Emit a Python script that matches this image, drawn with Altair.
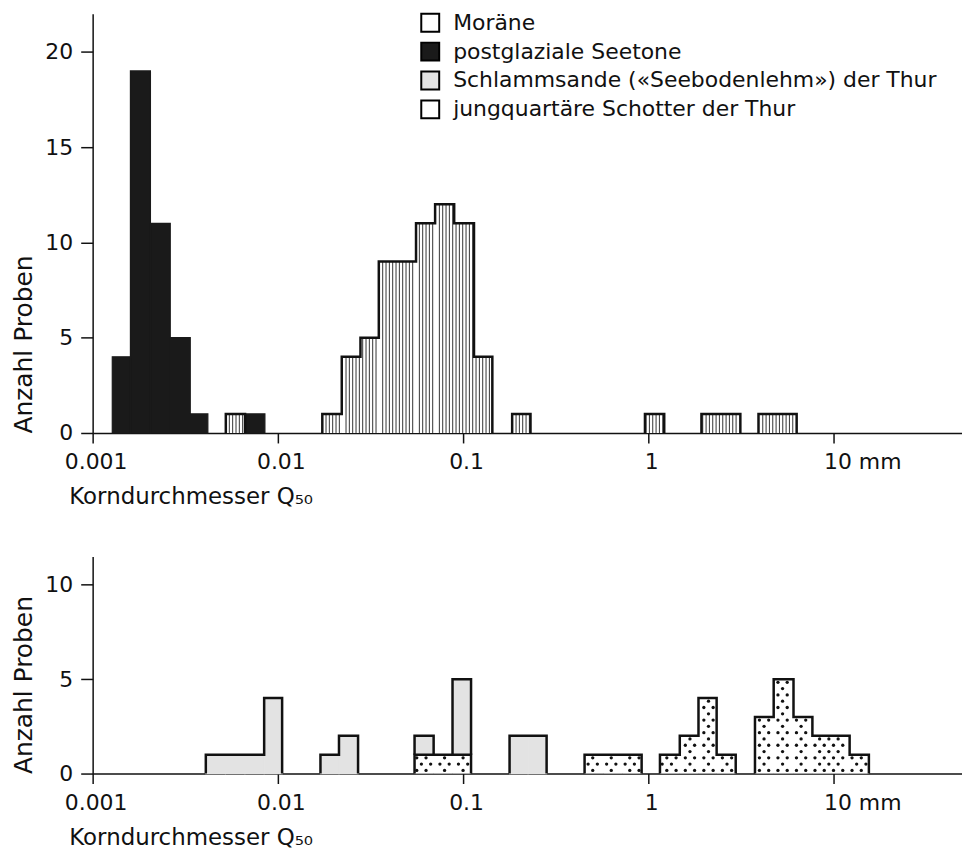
import math
import altair as alt
import pandas as pd

FONT = "DejaVu Sans"

SERIES = ["Moräne", "postglaziale Seetone",
          "Schlammsande («Seebodenlehm») der Thur",
          "jungquartäre Schotter der Thur"]
FILLS = ["#ffffff", "#1a1a1a", "#e3e3e3", "#ffffff"]

X_TICKS = [0.001, 0.01, 0.1, 1, 10]
X_DOMAIN = [0.001, 49.4]

# ---------- upper panel (bin edges as log10 of grain size in mm) ----------
SEETONE_LO = [-2.894, -2.796, -2.688, -2.581, -2.473, -2.177]
SEETONE_HI = [-2.796, -2.688, -2.581, -2.473, -2.378, -2.070]
SEETONE_N = [4, 19, 11, 5, 1, 1]

MORAENE_LO = [-2.281, -1.760, -1.655, -1.554, -1.455, -1.355, -1.254, -1.151,
              -1.048, -0.941, -0.735, -0.018, 0.287, 0.392, 0.595, 0.698]
MORAENE_HI = [-2.177, -1.655, -1.554, -1.455, -1.355, -1.254, -1.151, -1.048,
              -0.941, -0.842, -0.636, 0.086, 0.392, 0.497, 0.698, 0.801]
MORAENE_N = [1, 1, 4, 5, 9, 9, 11, 12, 11, 4, 1, 1, 1, 1, 1, 1]

# ---------- lower panel ----------
SCHLAMM_LO = [-2.389, -2.283, -2.178, -2.074, -1.770, -1.670, -1.262, -1.057, -0.749, -0.649]
SCHLAMM_HI = [-2.283, -2.178, -2.074, -1.977, -1.670, -1.567, -1.159, -0.957, -0.649, -0.549]
SCHLAMM_N = [1, 1, 1, 4, 1, 2, 1, 4, 2, 2]

SCHOTTER_LO = [-1.262, -1.159, -1.057, -0.344, -0.241, -0.139, 0.063, 0.170,
               0.271, 0.369, 0.576, 0.677, 0.784, 0.886, 0.987, 1.087]
SCHOTTER_HI = [-1.159, -1.057, -0.957, -0.241, -0.139, -0.036, 0.170, 0.271,
               0.369, 0.472, 0.677, 0.784, 0.886, 0.987, 1.087, 1.191]
SCHOTTER_N = [1, 1, 1, 1, 1, 1, 1, 2, 4, 1, 3, 5, 3, 2, 2, 1]


def bins(series, lo, hi, n, base=None):
    base = base or [0] * len(n)
    return [dict(series=series, lo=a, hi=b, base=c, top=c + k,
                 x=10 ** a, x2=10 ** b)
            for a, b, k, c in zip(lo, hi, n, base)]


def stack_base(lo, under_lo, under_n):
    out = []
    for a in lo:
        c = 0
        for b, k in zip(under_lo, under_n):
            if abs(a - b) < 0.01:
                c = k
        out.append(c)
    return out


top_bins = bins(SERIES[0], MORAENE_LO, MORAENE_HI, MORAENE_N) + \
    bins(SERIES[1], SEETONE_LO, SEETONE_HI, SEETONE_N)
bot_bins = bins(SERIES[3], SCHOTTER_LO, SCHOTTER_HI, SCHOTTER_N) + \
    bins(SERIES[2], SCHLAMM_LO, SCHLAMM_HI, SCHLAMM_N,
         stack_base(SCHLAMM_LO, SCHOTTER_LO, SCHOTTER_N))


def runs(blist, series_list):
    """Split bins into contiguous runs per series."""
    out = []
    for s in series_list:
        bs = sorted([b for b in blist if b["series"] == s], key=lambda b: b["lo"])
        cur = []
        for b in bs:
            if cur and (abs(b["lo"] - cur[-1]["hi"]) > 0.005 or b["base"] != cur[-1]["base"]):
                out.append(cur)
                cur = []
            cur.append(b)
        if cur:
            out.append(cur)
    return out


def outlines(blist, series_list):
    pts = []
    for r, run in enumerate(runs(blist, series_list)):
        pts.append((r, run[0]["lo"], run[0]["base"]))
        for b in run:
            pts.append((r, b["lo"], b["top"]))
            pts.append((r, b["hi"], b["top"]))
        pts.append((r, run[-1]["hi"], run[-1]["base"]))
    return pd.DataFrame([dict(run=r, idx=i, x=10 ** a, y=c)
                         for i, (r, a, c) in enumerate(pts)])


def hatch(blist, series, step=0.018):
    rows = []
    for b in blist:
        if b["series"] != series:
            continue
        k0 = math.ceil((b["lo"] + 0.006 + 3) / step)
        k1 = math.floor((b["hi"] - 0.006 + 3) / step)
        for k in range(k0, k1 + 1):
            rows.append(dict(x=10 ** (-3 + k * step), y=b["base"], y2=b["top"]))
    return pd.DataFrame(rows)


def dots(blist, series, dx=0.05, per_unit=3):
    rows = []
    for b in blist:
        if b["series"] != series:
            continue
        for r in range(int(b["base"] * per_unit), int(b["top"] * per_unit)):
            y = (r + 0.5) / per_unit
            shift = (r % 2) * dx / 2
            k0 = math.ceil((b["lo"] + 0.012 + 3 - shift) / dx)
            k1 = math.floor((b["hi"] - 0.012 + 3 - shift) / dx)
            for k in range(k0, k1 + 1):
                rows.append(dict(x=10 ** (-3 + shift + k * dx), y=y))
    return pd.DataFrame(rows)


label_expr = ("datum.value >= 5 ? '10 mm' : datum.value >= 0.5 ? '1' : "
              "datum.value >= 0.05 ? '0.1' : datum.value >= 0.005 ? '0.01' : '0.001'")


def x_enc(field):
    return alt.X(field, type="quantitative",
                 scale=alt.Scale(type="log", domain=X_DOMAIN, nice=False),
                 axis=alt.Axis(values=X_TICKS, labelExpr=label_expr,
                               title="Korndurchmesser Q₅₀",
                               tickSize=10, labelPadding=9,
                               labelAlign={"condition": {"test": "datum.value >= 5", "value": "left"}, "value": "center"},
                               labelOffset={"condition": {"test": "datum.value >= 5", "value": -10}, "value": 3},
                               titleAnchor="start", titleAlign="left", titleX=-24, titleY=71,
                               titleFontSize=23, titleBaseline="alphabetic"))


def y_axis(values):
    return alt.Axis(values=values, title="Anzahl Proben", titleAnchor="start",
                    titleFontSize=25, tickSize=12, labelPadding=8, titlePadding=8)


def panel(blist, ymax, yvals, height, outline_series, legend,
          hatch_series=None, dot_series=None):
    df = pd.DataFrame(blist)
    yscale = alt.Scale(domain=[0, ymax], nice=False)
    cscale = alt.Scale(domain=SERIES, range=FILLS)
    color = alt.Color("series:N", scale=cscale,
                      legend=alt.Legend(orient="none", legendX=328, legendY=-2, title=None,
                                        symbolType="square", symbolSize=324,
                                        symbolStrokeColor="black", symbolStrokeWidth=2,
                                        symbolOpacity=1, labelFont=FONT, labelFontSize=22,
                                        labelColor="#111", labelOffset=12, rowPadding=3,
                                        padding=0, labelLimit=0) if legend else None)
    layers = [alt.Chart(df).mark_rect(strokeWidth=0, opacity=1).encode(
        x=x_enc("x"), x2="x2:Q",
        y=alt.Y("top:Q", scale=yscale, axis=y_axis(yvals)), y2="base:Q",
        color=color)]
    # same-colour edge strokes hide the hairline seams between adjacent filled bins
    for s, c in ((SERIES[1], FILLS[1]), (SERIES[2], FILLS[2])):
        sub = df[df["series"] == s]
        if len(sub):
            layers.append(alt.Chart(sub).mark_rect(filled=False, stroke=c, strokeWidth=1.2).encode(
                x=x_enc("x"), x2="x2:Q", y=alt.Y("top:Q", scale=yscale), y2="base:Q"))
    if hatch_series:
        h = hatch(blist, hatch_series)
        layers.append(alt.Chart(h).mark_rule(color="#333", strokeWidth=1).encode(
            x=x_enc("x"), y=alt.Y("y:Q", scale=yscale), y2="y2:Q"))
    if dot_series:
        d = dots(blist, dot_series)
        layers.append(alt.Chart(d).mark_circle(color="#111", size=11, opacity=1).encode(
            x=x_enc("x"), y=alt.Y("y:Q", scale=yscale)))
    o = outlines(blist, outline_series)
    layers.append(alt.Chart(o).mark_line(color="#111", strokeWidth=2.5, strokeJoin="miter").encode(
        x=x_enc("x"), y=alt.Y("y:Q", scale=yscale),
        detail="run:N", order="idx:Q"))
    return alt.layer(*layers).properties(width=873, height=height)


top = panel(top_bins, 22, [0, 5, 10, 15, 20], 421, [SERIES[0]], True, hatch_series=SERIES[0])
bottom = panel(bot_bins, 11.5, [0, 5, 10], 218, [SERIES[3], SERIES[2]], False, dot_series=SERIES[3])

chart = alt.vconcat(top, bottom, spacing=48).resolve_scale(color="independent").properties(
    padding={"left": 4, "top": 2, "right": 0, "bottom": 0}
).configure_view(stroke=None).configure_axis(
    grid=False, domainColor="#111", domainWidth=1.5, tickColor="#111", tickWidth=1.5,
    labelFont=FONT, labelFontSize=22, labelColor="#111",
    titleFont=FONT, titleFontSize=22, titleFontWeight="normal", titleColor="#111"
).configure_legend(labelFont=FONT)

chart.save("out.html", embed_options={"renderer": "svg", "actions": False})
